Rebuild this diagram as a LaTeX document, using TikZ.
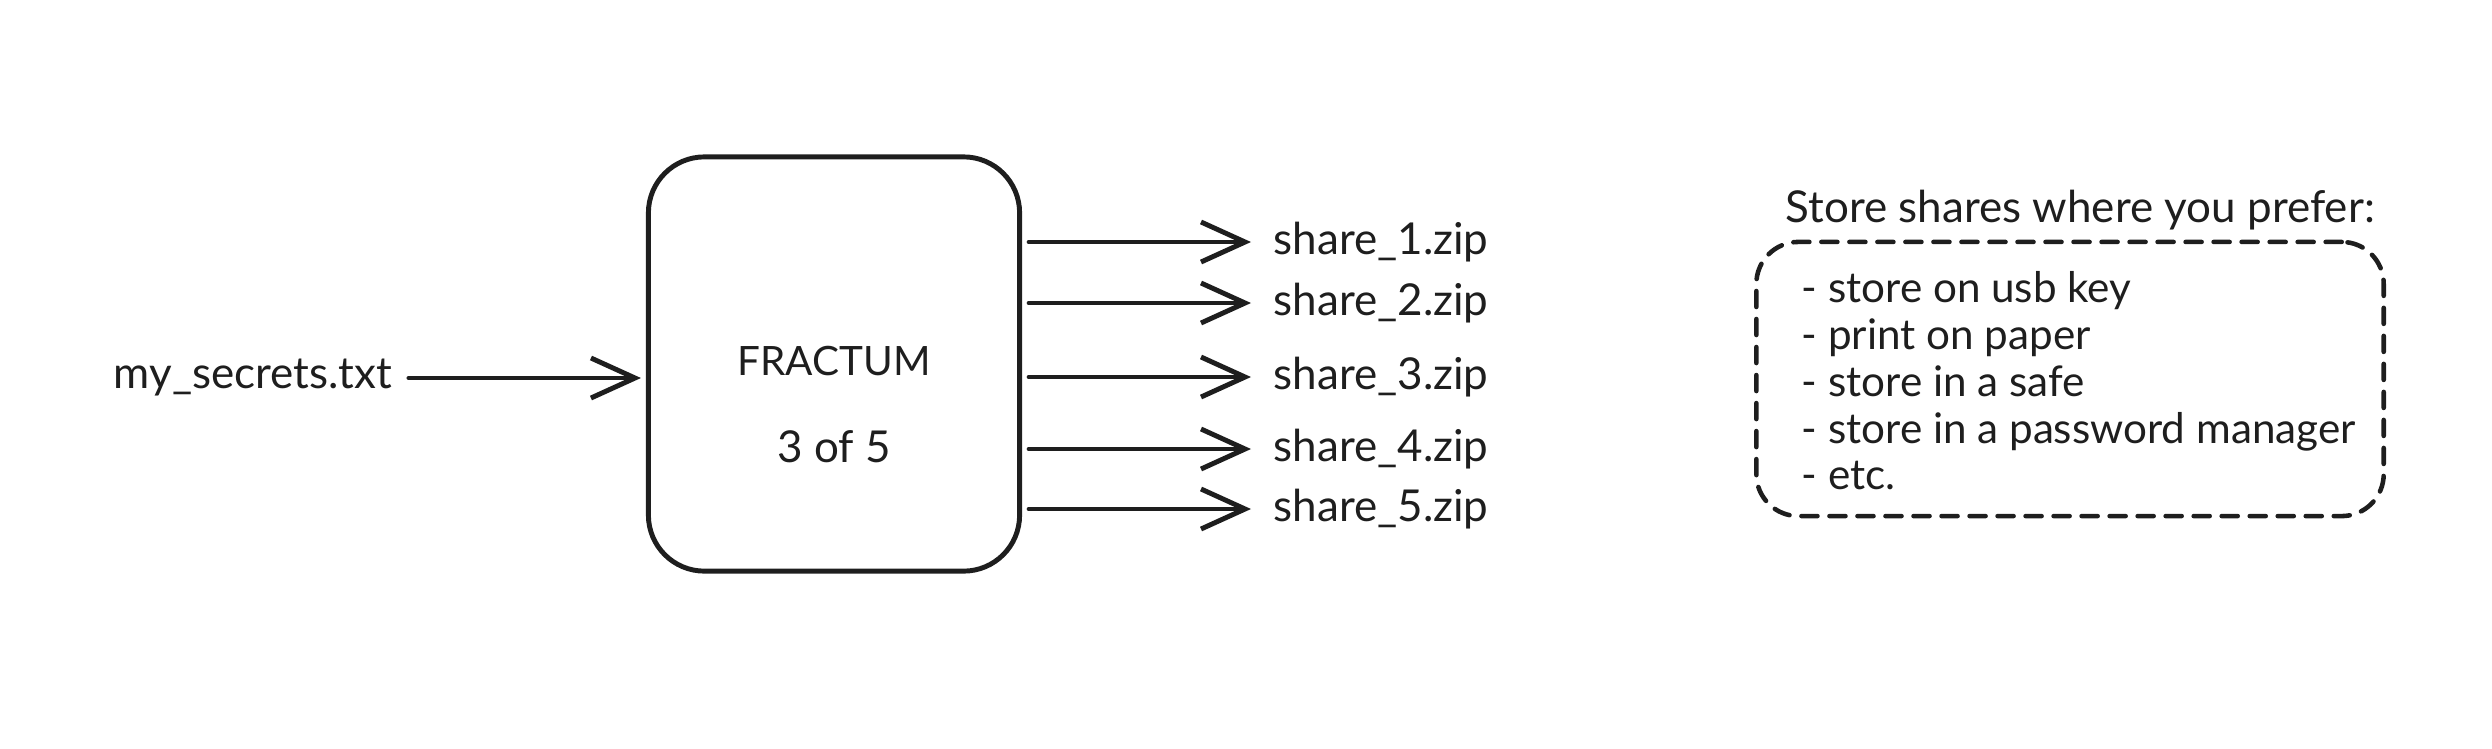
\documentclass[tikz,border=0pt]{standalone}
\usepackage{fontspec}
\setmainfont{Lato}
\usepackage{xcolor}
\usepackage{tikz}
\usetikzlibrary{arrows.meta}

\definecolor{ink}{HTML}{1E1E1E}

\begin{document}
\begin{tikzpicture}[x=0.01cm,y=-0.01cm,
  sketch line/.style={line width=1.4pt,draw=ink},
  flow/.style={sketch line,line cap=round,-{Straight Barb[length=4.4mm,width=4mm,line width=1.4pt]}},
  hand text/.style={text=ink,font=\fontsize{12.5}{15}\selectfont,inner sep=2pt}]
\useasboundingbox (0,0) rectangle (2492,748);
\node[hand text,anchor=west] (secret) at (106,378) {my\_secrets.txt};
\node[sketch line,rounded corners=0.56cm,minimum width=3.71cm,minimum height=4.14cm] (fractum) at (834,364) {}; % the box
\node[hand text,font=\fontsize{11.5}{14}\selectfont] (fractumname) at (834,361) {FRACTUM};
\node[hand text] (threshold) at (834,447) {3 of 5};
\draw[flow,shorten <=0.09cm,shorten >=0.05cm] (secret) -- (fractum.west |- secret); % input
% shares
\node[hand text,anchor=west] (share1) at (1266,242) {share\_1.zip};
\node[hand text,anchor=west] (share2) at (1266,303) {share\_2.zip};
\node[hand text,anchor=west] (share3) at (1266,377) {share\_3.zip};
\node[hand text,anchor=west] (share4) at (1266,449) {share\_4.zip};
\node[hand text,anchor=west] (share5) at (1266,509) {share\_5.zip};
\draw[flow,shorten <=0.07cm,shorten >=0.15cm] (fractum.east |- share1) -- (share1);
\draw[flow,shorten <=0.07cm,shorten >=0.15cm] (fractum.east |- share2) -- (share2);
\draw[flow,shorten <=0.07cm,shorten >=0.15cm] (fractum.east |- share3) -- (share3);
\draw[flow,shorten <=0.07cm,shorten >=0.15cm] (fractum.east |- share4) -- (share4);
\draw[flow,shorten <=0.07cm,shorten >=0.15cm] (fractum.east |- share5) -- (share5);
% where to keep them
\node[hand text,anchor=west] (storehead) at (1778,210) {Store shares where you prefer:};
\node[draw=ink,line width=1.3pt,line cap=round,dash pattern=on 0.16cm off 0.12cm,rounded corners=0.42cm,minimum width=6.27cm,minimum height=2.74cm] (places) at (2070,379) {};
\node[hand text,anchor=west,align=left,font=\fontsize{12}{13.3}\selectfont] (placelist) at (1794,381) {- store on usb key\\- print on paper\\- store in a safe\\- store in a password manager\\- etc.};
\end{tikzpicture}
\end{document}
